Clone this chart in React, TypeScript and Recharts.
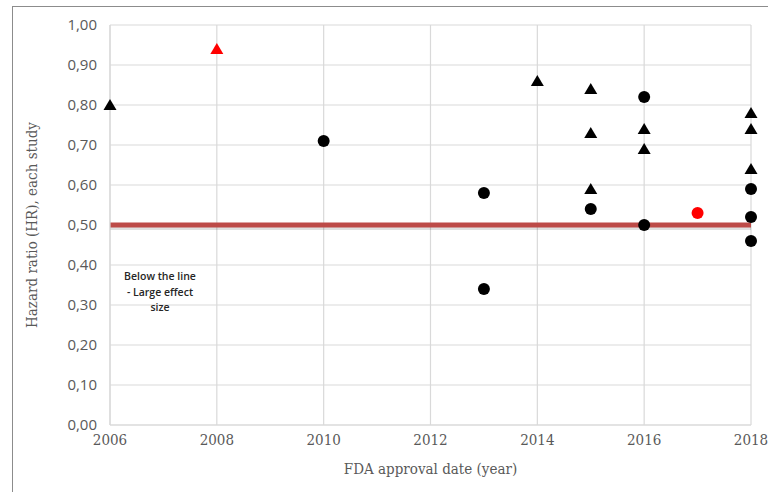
import {
  ScatterChart,
  Scatter,
  XAxis,
  YAxis,
  CartesianGrid,
  ReferenceLine,
} from "recharts";

// FDA approval year vs hazard ratio per study
const blackTriangles = [
  { year: 2006, hr: 0.8 },
  { year: 2014, hr: 0.86 },
  { year: 2015, hr: 0.84 },
  { year: 2015, hr: 0.73 },
  { year: 2015, hr: 0.59 },
  { year: 2016, hr: 0.74 },
  { year: 2016, hr: 0.69 },
  { year: 2018, hr: 0.78 },
  { year: 2018, hr: 0.74 },
  { year: 2018, hr: 0.64 },
];

const blackCircles = [
  { year: 2010, hr: 0.71 },
  { year: 2013, hr: 0.58 },
  { year: 2013, hr: 0.34 },
  { year: 2015, hr: 0.54 },
  { year: 2016, hr: 0.82 },
  { year: 2016, hr: 0.5 },
  { year: 2018, hr: 0.59 },
  { year: 2018, hr: 0.52 },
  { year: 2018, hr: 0.46 },
];

const redTriangles = [{ year: 2008, hr: 0.94 }];
const redCircles = [{ year: 2017, hr: 0.53 }];

const xTicks = [2006, 2008, 2010, 2012, 2014, 2016, 2018];
const yTicks = [0, 0.1, 0.2, 0.3, 0.4, 0.5, 0.6, 0.7, 0.8, 0.9, 1.0];
const threshold = 0.5;

const Triangle = (props: any) => {
  const { cx, cy, fill } = props;
  return (
    <path
      d={`M${cx},${cy - 6} L${cx + 6.5},${cy + 5} L${cx - 6.5},${cy + 5} Z`}
      fill={fill}
    />
  );
};

const Dot = (props: any) => {
  const { cx, cy, fill } = props;
  return <circle cx={cx} cy={cy} r={6} fill={fill} />;
};

const fmt = (v: number) => v.toFixed(2).replace(".", ",");

const serif = "DejaVu Serif Condensed, Liberation Serif, serif";

const App = () => {
  return (
    <div style={{ position: "absolute", left: 0, top: 0, width: 768, height: 492 }}>
      <div
        style={{
          position: "absolute",
          left: 12,
          top: 6,
          width: 770,
          height: 500,
          borderLeft: "1px solid #8c8c8c",
          borderTop: "1px solid #8c8c8c",
        }}
      />
      <ScatterChart
        width={768}
        height={492}
        margin={{ top: 25, right: 17, left: 0, bottom: 0 }}
        style={{ position: "absolute", left: 0, top: 0 }}
      >
        <CartesianGrid stroke="#d9d9d9" strokeWidth={1.2} />
        <XAxis
          type="number"
          dataKey="year"
          domain={[2006, 2018]}
          ticks={xTicks}
          height={67}
          tickLine={false}
          tickSize={0}
          tickMargin={9}
          axisLine={{ stroke: "#d9d9d9", strokeWidth: 1.2 }}
          tick={{ fill: "#595959", fontSize: 15, fontFamily: serif }}
          label={{
            value: "FDA approval date (year)",
            position: "insideBottom",
            offset: 18,
            fill: "#595959",
            fontSize: 15,
            fontFamily: serif,
          }}
        />
        <YAxis
          type="number"
          dataKey="hr"
          domain={[0, 1]}
          ticks={yTicks}
          width={110}
          tickLine={false}
          tickSize={0}
          tickMargin={13}
          tickFormatter={fmt}
          axisLine={{ stroke: "#d9d9d9", strokeWidth: 1.2 }}
          tick={{ fill: "#595959", fontSize: 15, fontFamily: "Open Sans, sans-serif" }}
          label={{
            value: "Hazard ratio (HR), each study",
            angle: -90,
            position: "insideLeft",
            offset: 32,
            style: { textAnchor: "middle" },
            fill: "#595959",
            fontSize: 15,
            fontFamily: serif,
          }}
        />
        <ReferenceLine
          y={threshold - 0.006}
          stroke="#000000"
          strokeOpacity={0.12}
          strokeWidth={5}
        />
        <ReferenceLine y={threshold} stroke="#bd4b48" strokeWidth={5} />
        <Scatter data={blackTriangles} fill="#000000" shape={Triangle} isAnimationActive={false} />
        <Scatter data={blackCircles} fill="#000000" shape={Dot} isAnimationActive={false} />
        <Scatter data={redTriangles} fill="#ff0000" shape={Triangle} isAnimationActive={false} />
        <Scatter data={redCircles} fill="#ff0000" shape={Dot} isAnimationActive={false} />
      </ScatterChart>
      <div
        style={{
          position: "absolute",
          left: 108,
          top: 269,
          width: 104,
          textAlign: "center",
          fontFamily: "Open Sans, sans-serif",
          fontSize: 10.5,
          fontWeight: 600,
          lineHeight: "15.5px",
          color: "#262626",
        }}
      >
        Below the line
        <br />- Large effect
        <br />
        size
      </div>
    </div>
  );
};

export default App;
